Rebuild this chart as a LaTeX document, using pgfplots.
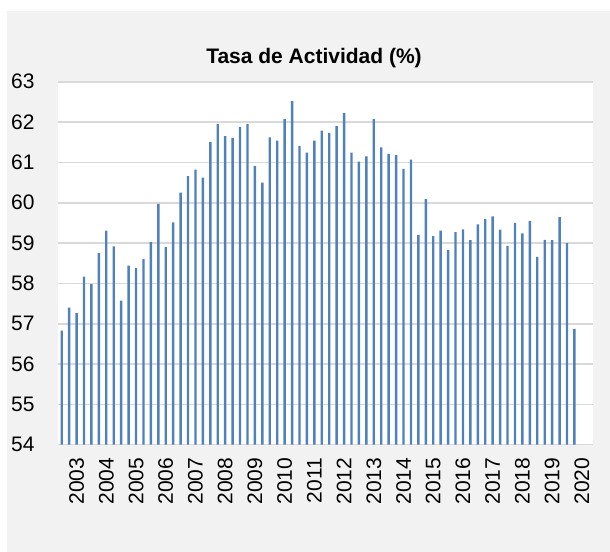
\documentclass[border=0pt]{standalone}
\usepackage{pgfplots}
\pgfplotsset{compat=1.18}
\usepackage{fontspec}
\setmainfont{Liberation Sans}
\definecolor{barblue}{RGB}{79,129,189}
\definecolor{panel}{RGB}{242,242,242}
\definecolor{gridc}{RGB}{217,217,217}
\begin{document}
\begin{tikzpicture}
\useasboundingbox (0bp,0bp) rectangle (610bp,552bp);
\fill[white] (0bp,0bp) rectangle (610bp,552bp);
\fill[panel] (7bp,0bp) rectangle (610bp,541bp);
\node[font=\bfseries\fontsize{21bp}{25bp}\selectfont, anchor=base, inner sep=0pt] at (314bp,488.7bp) {Tasa de Actividad (\%)};
\begin{axis}[
  at={(58bp,107.3bp)}, anchor=south west,
  scale only axis, width=535bp, height=363bp,
  xmin=-0.5, xmax=71.5, ymin=54, ymax=63,
  axis background/.style={fill=white},
  ytick={54,55,56,57,58,59,60,61,62,63},
  yticklabels={54,55,56,57,58,59,60,61,62,63},
  xtick={2,6,10,14,18,22,26,30,34,38,42,46,50,54,58,62,66,70},
  xticklabels={2003,2004,2005,2006,2007,2008,2009,2010,2011,2012,2013,2014,2015,2016,2017,2018,2019,2020},
  ymajorgrids, major grid style={draw=gridc, line width=1.6bp},
  axis line style={draw=none}, major tick length=0pt,
  tick label style={font=\fontsize{21bp}{25bp}\selectfont, inner sep=0pt},
  yticklabel style={anchor=west, xshift=-47bp},
  xticklabel style={yshift=-13bp, rotate=90, anchor=east},
  clip=true,
]
\addplot[ybar, bar width=2.4bp, bar shift=0pt, fill=barblue, draw=none] coordinates {
(0,56.83) (1,57.40) (2,57.26) (3,58.17) (4,57.98) (5,58.75) (6,59.31) (7,58.92) (8,57.57) (9,58.44)
(10,58.38) (11,58.60) (12,59.02) (13,59.97) (14,58.90) (15,59.51) (16,60.25) (17,60.66) (18,60.82) (19,60.62)
(20,61.50) (21,61.95) (22,61.65) (23,61.61) (24,61.88) (25,61.95) (26,60.91) (27,60.50) (28,61.62) (29,61.54)
(30,62.07) (31,62.52) (32,61.41) (33,61.24) (34,61.54) (35,61.79) (36,61.73) (37,61.90) (38,62.23) (39,61.24)
(40,61.02) (41,61.15) (42,62.07) (43,61.37) (44,61.21) (45,61.18) (46,60.84) (47,61.07) (48,59.20) (49,60.09)
(50,59.17) (51,59.31) (52,58.83) (53,59.27) (54,59.34) (55,59.07) (56,59.46) (57,59.59) (58,59.66) (59,59.33)
(60,58.93) (61,59.50) (62,59.24) (63,59.55) (64,58.66) (65,59.08) (66,59.07) (67,59.64) (68,59.00) (69,56.87)
};
\end{axis}
\end{tikzpicture}
\end{document}
